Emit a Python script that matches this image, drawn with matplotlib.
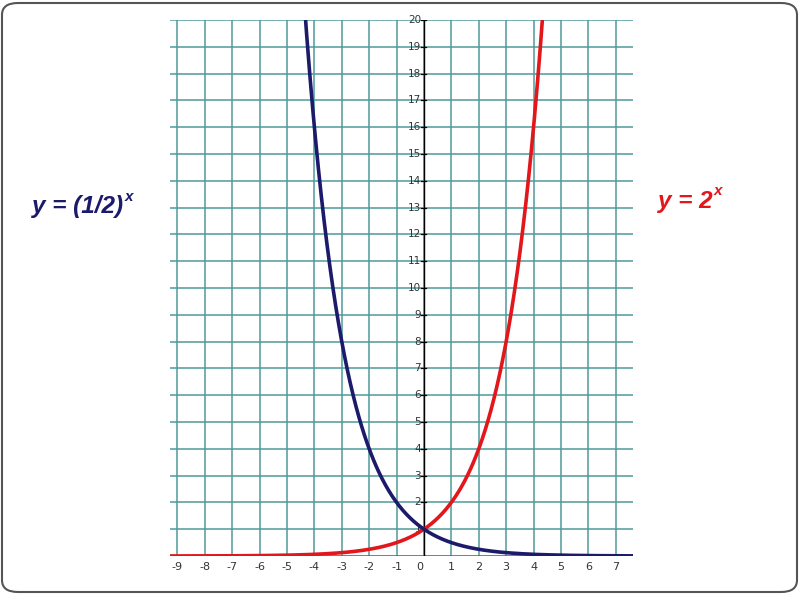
import numpy as np
import matplotlib.pyplot as plt
import matplotlib.patches as patches

# dados do gráfico
x_ticks = [-9, -8, -7, -6, -5, -4, -3, -2, -1, 0, 1, 2, 3, 4, 5, 6, 7]
y_ticks = list(range(1, 21))
bases = [2, 0.5]
labels = ['y = 2', 'y = (1/2)']
colors = ['#e3161b', '#1b1a6b']
x_min, x_max = -9.27, 7.63
y_min, y_max = 0, 20

fig = plt.figure(figsize=(8, 5.94), dpi=100)

# moldura do slide
frame = patches.FancyBboxPatch((2 / 800, 2 / 594), 795 / 800, 589 / 594,
                               boxstyle='round,pad=0,rounding_size=0.02',
                               transform=fig.transFigure, fill=False,
                               edgecolor='#555555', linewidth=1.5)
fig.patches.append(frame)

ax = fig.add_axes([170 / 800, 38 / 594, 463 / 800, 536 / 594])
ax.set_xlim(x_min, x_max)
ax.set_ylim(y_min, y_max)
ax.axis('off')

# grade
grid_c = '#4f9a9a'
for gx in x_ticks:
    ax.plot([gx, gx], [y_min, y_max], color=grid_c, lw=1.1, zorder=1)
for gy in range(0, 21):
    ax.plot([x_min, x_max], [gy, gy], color=grid_c, lw=1.1, zorder=1)

# eixos
ax.plot([x_min, x_max], [0, 0], color='black', lw=1.0, zorder=2)
ax.plot([0, 0], [0, y_max], color='black', lw=1.0, zorder=2)
for gy in y_ticks:
    ax.plot([-0.12, 0.08], [gy, gy], color='black', lw=0.9, zorder=2)

# rótulos
for gy in y_ticks:
    ax.text(-0.1, gy, str(gy), ha='right', va='center', fontsize=7.5,
            color='#333333', zorder=3)
for gx in x_ticks:
    ax.text(gx - (0.15 if gx == 0 else 0), -0.4, str(gx), ha='center',
            va='center', fontsize=8, color='#333333', clip_on=False)

# curvas
for b, c in zip(bases, colors):
    xs = np.linspace(x_min, x_max, 800)
    ys = b ** xs
    m = ys <= 30
    ax.plot(xs[m], ys[m], color=c, lw=2.6, zorder=4, solid_capstyle='butt')

# legendas das funções
font = dict(family='Liberation Sans', fontweight='bold', fontstyle='italic')
t1 = fig.text(32 / 800, 1 - 207 / 594, labels[1], fontsize=17.5,
              color=colors[1], ha='left', va='center', **font)
fig.canvas.draw()
ax.annotate('x', xy=(1.02, 0.92), xycoords=t1, ha='left', va='center',
            fontsize=11, color=colors[1], **font)
t2 = fig.text(658 / 800, 1 - 201 / 594, labels[0], fontsize=17.5,
              color=colors[0], ha='left', va='center', **font)
ax.annotate('x', xy=(1.02, 0.92), xycoords=t2, ha='left', va='center',
            fontsize=11, color=colors[0], **font)

fig.savefig('out.png', dpi=100)
